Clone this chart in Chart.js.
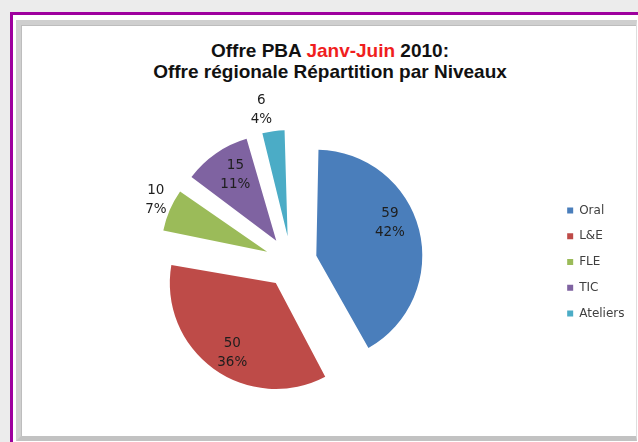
<!DOCTYPE html>
<html>
<head>
<meta charset="utf-8">
<script src="https://cdn.jsdelivr.net/npm/chart.js@4/dist/chart.umd.min.js"></script>
<style>
  html, body { margin: 0; padding: 0; }
  body { width: 638px; height: 442px; overflow: hidden; background: #ececec; position: relative; }
  #frame { position: absolute; left: 10px; top: 12px; width: 700px; height: 500px;
           border-left: 3px solid #9e009e; border-top: 3px solid #9e009e; background: #fff; }
  #box { position: absolute; left: 16px; top: 20px; width: 621px; height: 421px; box-sizing: border-box;
         border-left: 5px solid #cfcfcf; border-top: 5px solid #cfcfcf; border-right: 1px solid #dedede;
         border-bottom: 5px solid #c2c2c2; background: #fff;
         box-shadow: inset 1px 1px 0 #bdbdbd; }
  #title { position: absolute; left: 0; top: 40px; width: 660px; text-align: center;
           font: bold 19px "Liberation Sans", Arial, sans-serif; line-height: 21px; color: #111; }
  #title .red { color: #f01e1e; }
  #c { position: absolute; left: 0; top: 0; }
</style>
</head>
<body>
<div id="frame"></div>
<div id="box"></div>
<div id="title">Offre PBA <span class="red">Janv-Juin</span> 2010:<br>Offre régionale Répartition par Niveaux</div>
<canvas id="c" width="638" height="442"></canvas>
<script>
// ---- data ----
const categories = ["Oral", "L&E", "FLE", "TIC", "Ateliers"];
const values = [59, 50, 10, 15, 6];
const colors = ["#4a7ebb", "#be4b48", "#9bbb59", "#7f63a1", "#4bacc6"];

// ---- label placement styles (radial fraction of radius, angular shift in degrees) ----
const labelRadius = [0.76, 0.775, 1.16, 0.73, 1.22];
const labelShift = [-9.8, -4, 2.0, 2.8, -4];

const R = 106;          // pie radius (px)
const EXPLODE = 26;     // visual explode distance (px)

const total = values.reduce((a, b) => a + b, 0);

const fixRadiusPlugin = {
  id: 'fixRadius',
  afterDatasetsUpdate(chart) {
    const meta = chart.getDatasetMeta(0);
    meta.data.forEach(a => {
      const fix = 1 - Math.sin(Math.min(Math.PI, a.circumference || 0));
      a.outerRadius = R - EXPLODE * fix;
    });
  }
};

const labelPlugin = {
  id: 'sliceLabels',
  afterDatasetsDraw(chart) {
    const ctx = chart.ctx;
    const meta = chart.getDatasetMeta(0);
    ctx.save();
    ctx.font = '13.5px "DejaVu Sans", sans-serif';
    ctx.fillStyle = '#1e1e1e';
    ctx.textAlign = 'center';
    ctx.textBaseline = 'middle';
    meta.data.forEach((a, i) => {
      const mid = (a.startAngle + a.endAngle) / 2;
      const ang = mid + labelShift[i] * Math.PI / 180;
      const vx = a.x + Math.cos(mid) * EXPLODE;
      const vy = a.y + Math.sin(mid) * EXPLODE;
      const d = R * labelRadius[i];
      const lx = vx + Math.cos(ang) * d;
      const ly = vy + Math.sin(ang) * d;
      const pct = Math.round(values[i] / total * 100) + '%';
      ctx.fillText(String(values[i]), lx, ly - 9.5);
      ctx.fillText(pct, lx, ly + 9.5);
    });
    ctx.restore();
  }
};

new Chart(document.getElementById('c'), {
  type: 'pie',
  data: {
    labels: categories,
    datasets: [{
      data: values,
      backgroundColor: colors,
      borderWidth: 0,
      offset: EXPLODE * 4,
      hoverOffset: 0
    }]
  },
  options: {
    responsive: false,
    animation: false,
    radius: R,
    layout: { padding: { left: 28.75, right: 3.5, top: 141, bottom: 59 } },
    plugins: {
      title: { display: false },
      tooltip: { enabled: false },
      legend: {
        position: 'right',
        align: 'center',
        labels: {
          boxWidth: 6,
          boxHeight: 6,
          padding: 13.75,
          color: '#404040',
          font: { family: '"DejaVu Sans", sans-serif', size: 12 }
        }
      }
    }
  },
  plugins: [fixRadiusPlugin, labelPlugin]
});
</script>
</body>
</html>
